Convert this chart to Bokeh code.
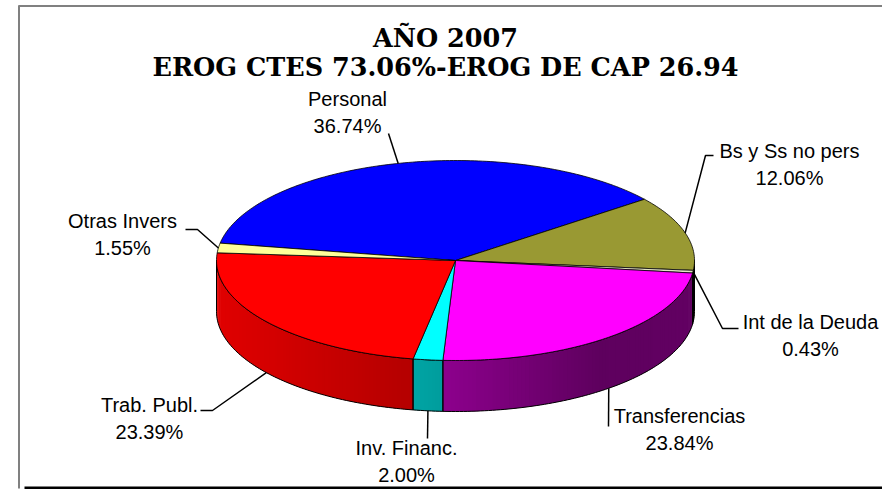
import numpy as np
from bokeh.plotting import figure
from bokeh.models import Range1d, ColumnDataSource
from bokeh.embed import file_html
from bokeh.resources import INLINE
from bokeh.core.properties import value

# ---------------- data ----------------
categories = ["Personal", "Bs y Ss no pers", "Int de la Deuda", "Transferencias",
              "Inv. Financ.", "Trab. Publ.", "Otras Invers"]
percentages = [36.74, 12.06, 0.43, 23.84, 2.00, 23.39, 1.55]
title_lines = ["AÑO 2007", "EROG CTES 73.06%-EROG DE CAP 26.94"]

# ---------------- styles / layout ----------------
top_colors = ["#0000FF", "#999933", "#E4E4C4", "#FF00FF", "#00FFFF", "#FF0000", "#FFFF99"]
side_mult = [1.0, 1.3, 1.0, 0.82, 0.91, 1.0, 1.0]
first_slice_angle = 280.0           # clockwise from 12 o'clock
CX, CY, RX, RY, DEPTH = 455.0, 260.0, 239.0, 100.0, 51.0
label_pos = [(347, 112), (789, 164), (810, 335), (679, 429), (406, 461), (149, 418), (122, 234)]
leader_pre = [[(388, 133)], [(713, 155), (705, 155)], [(738, 328), (722, 328)],
              [(608, 426)], [(427, 438)], [(200, 410), (212, 410)], [(185, 229), (197, 229)]]
LABEL_FONT = "Liberation Sans"

W, H = 882, 489
p = figure(width=W, height=H, output_backend="svg", toolbar_location=None,
           x_range=Range1d(0, W), y_range=Range1d(H, 0),
           x_axis_type=None, y_axis_type=None, min_border=0)
p.grid.visible = False
p.outline_line_color = None
p.background_fill_color = "white"


def hex2rgb(h):
    h = h.lstrip("#")
    return [int(h[i:i + 2], 16) for i in (0, 2, 4)]


def rgb2hex(c):
    return "#%02x%02x%02x" % tuple(int(max(0, min(255, round(v)))) for v in c)


def light(t):
    return np.interp(t, [-1.0, -0.1, 0.6, 1.0], [0.88, 0.69, 0.45, 0.47])


def top_pt(th):
    r = np.radians(th)
    return CX + RX * np.cos(r), CY - RY * np.sin(r)


total = sum(percentages)
start = 90.0 - first_slice_angle
if start < -180:
    start += 360
angles = []
cur = start
for v in percentages:
    span = 360.0 * v / total
    angles.append((cur - span, cur))
    cur -= span

# ---------------- side walls ----------------
strip_xs, strip_ys, strip_c = [], [], []
out_xs, out_ys = [], []
for i, (a0, a1) in enumerate(angles):
    base = np.array(hex2rgb(top_colors[i]), dtype=float) * side_mult[i]
    for k in (-1, 0, 1):
        lo = max(a0 + 360 * k, -180.0)
        hi = min(a1 + 360 * k, 0.0)
        if hi <= lo:
            continue
        n = max(2, int(np.ceil((hi - lo) / 1.0)))
        th = np.linspace(lo, hi, n + 1)
        for j in range(n):
            ta = th[j]
            tb = min(th[j + 1] + 0.8, hi) if j < n - 1 else th[j + 1]
            sub = np.linspace(ta, tb, 3)
            pts = [top_pt(t) for t in sub]
            tm = np.radians((th[j] + th[j + 1]) / 2)
            col = rgb2hex(base * light(np.cos(tm)))
            strip_xs.append([q[0] for q in pts] + [q[0] for q in pts[::-1]])
            strip_ys.append([q[1] for q in pts] + [q[1] + DEPTH for q in pts[::-1]])
            strip_c.append(col)
        txy = [top_pt(t) for t in th]
        xs = [q[0] for q in txy] + [q[0] for q in txy[::-1]]
        ys = [q[1] for q in txy] + [q[1] + DEPTH for q in txy[::-1]]
        out_xs.append(xs)
        out_ys.append(ys)

p.patches(strip_xs, strip_ys, fill_color=strip_c, line_color=None)
p.patches(out_xs, out_ys, fill_color=None, line_color="black", line_width=1)

# ---------------- top faces ----------------
top_xs, top_ys = [], []
for (a0, a1) in angles:
    n = max(2, int(np.ceil((a1 - a0) / 1.0)))
    th = np.linspace(a1, a0, n + 1)
    pts = [top_pt(t) for t in th]
    top_xs.append([CX] + [q[0] for q in pts])
    top_ys.append([CY] + [q[1] for q in pts])
p.patches(top_xs, top_ys, fill_color=top_colors, line_color="black", line_width=0.8)

# ---------------- leaders & labels ----------------
lx, ly = [], []
for i, (a0, a1) in enumerate(angles):
    mid = (a0 + a1) / 2
    x, y = top_pt(mid)
    if np.sin(np.radians(mid)) < -0.2:
        y += DEPTH
    pts = leader_pre[i] + [(x, y)]
    lx.append([q[0] for q in pts])
    ly.append([q[1] for q in pts])
p.multi_line(lx, ly, line_color="black", line_width=1.5)

src = ColumnDataSource(dict(
    x=[q[0] for q in label_pos], y=[q[1] for q in label_pos],
    t=[f"{c}\n{v:.2f}%" for c, v in zip(categories, percentages)]))
p.text(x="x", y="y", text="t", source=src, text_align="center", text_baseline="middle",
       text_font=value(LABEL_FONT), text_font_size="20px", text_color="black",
       text_line_height=1.2)

p.text(x=[445, 445], y=[37, 66], text=title_lines, text_align="center", text_baseline="middle",
       text_font=value("DejaVu Serif"), text_font_style="bold", text_font_size="25.5px",
       text_color="black")

# ---------------- chart frame ----------------
p.line([18.5, 18.5], [5, 488], line_color="#808080", line_width=2)
p.line([18, W], [5.5, 5.5], line_color="#808080", line_width=2)
p.line([24, W], [487.5, 487.5], line_color="black", line_width=3)

open("out.html", "w").write(file_html(p, INLINE))
